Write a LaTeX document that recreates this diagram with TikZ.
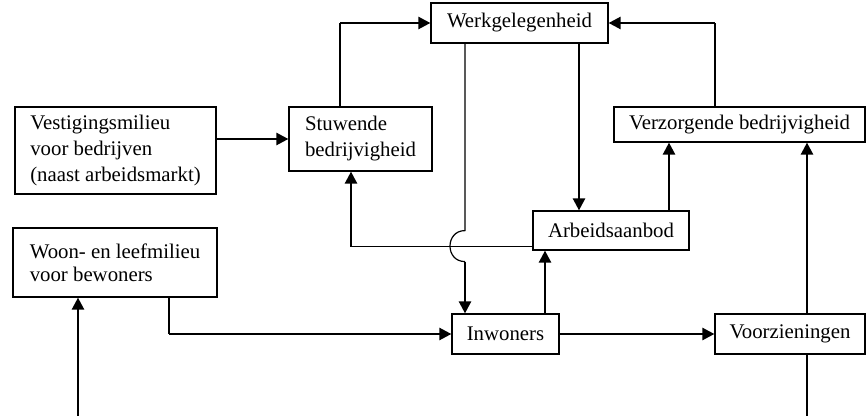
\documentclass[tikz,border=0pt]{standalone}
\usepackage{fontspec}
\setmainfont{Liberation Serif}
\usetikzlibrary{calc,arrows.meta}

\begin{document}
\begin{tikzpicture}[x=0.5pt, y=-0.5pt,
  box/.style={draw, line width=0.6pt, inner sep=0pt, font=\fontsize{10.4}{13}\selectfont},
  lijn/.style={line width=0.6pt},
  pijl/.style={line width=1.2pt, -{Triangle[length=6pt,width=6pt]}}]

\useasboundingbox (0,0) rectangle (866,416);

% --- BOXES ---
\node[box, align=left, minimum width=100.5pt, minimum height=43.5pt]
  (vest) at (115.5,150.5) {Vestigingsmilieu\\voor bedrijven\\(naast arbeidsmarkt)};
\node[box, align=left, minimum width=71.5pt, minimum height=32pt]
  (stuw) at (360.5,139) {Stuwende\\bedrijvigheid};
\node[box, minimum width=88.5pt, minimum height=20pt]   (werk) at (519.5,23)    {Werkgelegenheid};
\node[box, minimum width=125.5pt, minimum height=17.5pt] (verz) at (739.5,124.5) {Verzorgende bedrijvigheid};
\node[box, minimum width=78pt, minimum height=19.5pt]   (arb)  at (611,230.5)   {Arbeidsaanbod};
\node[box, align=left, minimum width=102pt, minimum height=34.5pt,
  font=\fontsize{10.4}{11.5}\selectfont]
  (woon) at (115,262.5) {Woon- en leefmilieu\\voor bewoners};
\node[box, minimum width=53.5pt, minimum height=20pt]   (inw)  at (505.5,334)   {Inwoners};
\node[box, minimum width=75pt, minimum height=20pt]     (voor) at (790,334)     {Voorzieningen};

% --- HELP POINTS ---
\coordinate (s1) at ($(stuw.north)+(-20.5,0)$);
\coordinate (w1) at ($(werk.south)+(-54.5,0)$);
\coordinate (w2) at ($(werk.south)+(59.5,0)$);
\coordinate (v1) at ($(verz.north)+(-24.5,0)$);
\coordinate (a1) at ($(arb.south west)+(0,-4)$);
\coordinate (a2) at ($(stuw.south)+(-9.5,0)$);
\coordinate (a3) at ($(arb.north)+(58,0)$);
\coordinate (j1) at ($(w1 |- a1)+(0,-16)$);
\coordinate (j2) at ($(w1 |- a1)+(0,15)$);
\coordinate (i1) at ($(inw.north)+(39.5,0)$);
\coordinate (o1) at ($(woon.south)+(54,0)$);
\coordinate (o2) at ($(woon.south)+(-37,0)$);
\coordinate (r1) at ($(voor.north)+(17,0)$);
\coordinate (r2) at ($(voor.south)+(17,0)$);
\coordinate (onder1) at (r2 |- 0,416);
\coordinate (onder2) at (o2 |- 0,416);

% --- CONNECTORS ---
\draw[pijl] (vest.east |- stuw.west) -- (stuw.west);
\draw[lijn] (s1) -- (s1 |- werk.west);
\draw[pijl] (s1 |- werk.west) -- (werk.west);
\draw[lijn] (v1) -- (v1 |- werk.east);
\draw[pijl] (v1 |- werk.east) -- (werk.east);
\draw[pijl] (w2) -- (w2 |- arb.north);
\draw[pijl] (a3) -- (a3 |- verz.south);
\draw[lijn] (a1) -- (a1 -| a2);
\draw[pijl] (a1 -| a2) -- (a2);
\draw[lijn] (w1) -- (j1) .. controls ($(j1)+(-20,0)$) and ($(j2)+(-20,0)$) .. (j2);
\draw[pijl] (j2) -- (j2 |- inw.north);
\draw[pijl] (i1) -- (i1 |- arb.south);
\draw[lijn] (o1) -- (o1 |- inw.west);
\draw[pijl] (o1 |- inw.west) -- (inw.west);
\draw[pijl] (inw.east) -- (voor.west);
\draw[pijl] (r1) -- (r1 |- verz.south);
\draw[lijn] (r2) -- (onder1);
\draw[pijl] (onder2) -- (o2);

\end{tikzpicture}
\end{document}
